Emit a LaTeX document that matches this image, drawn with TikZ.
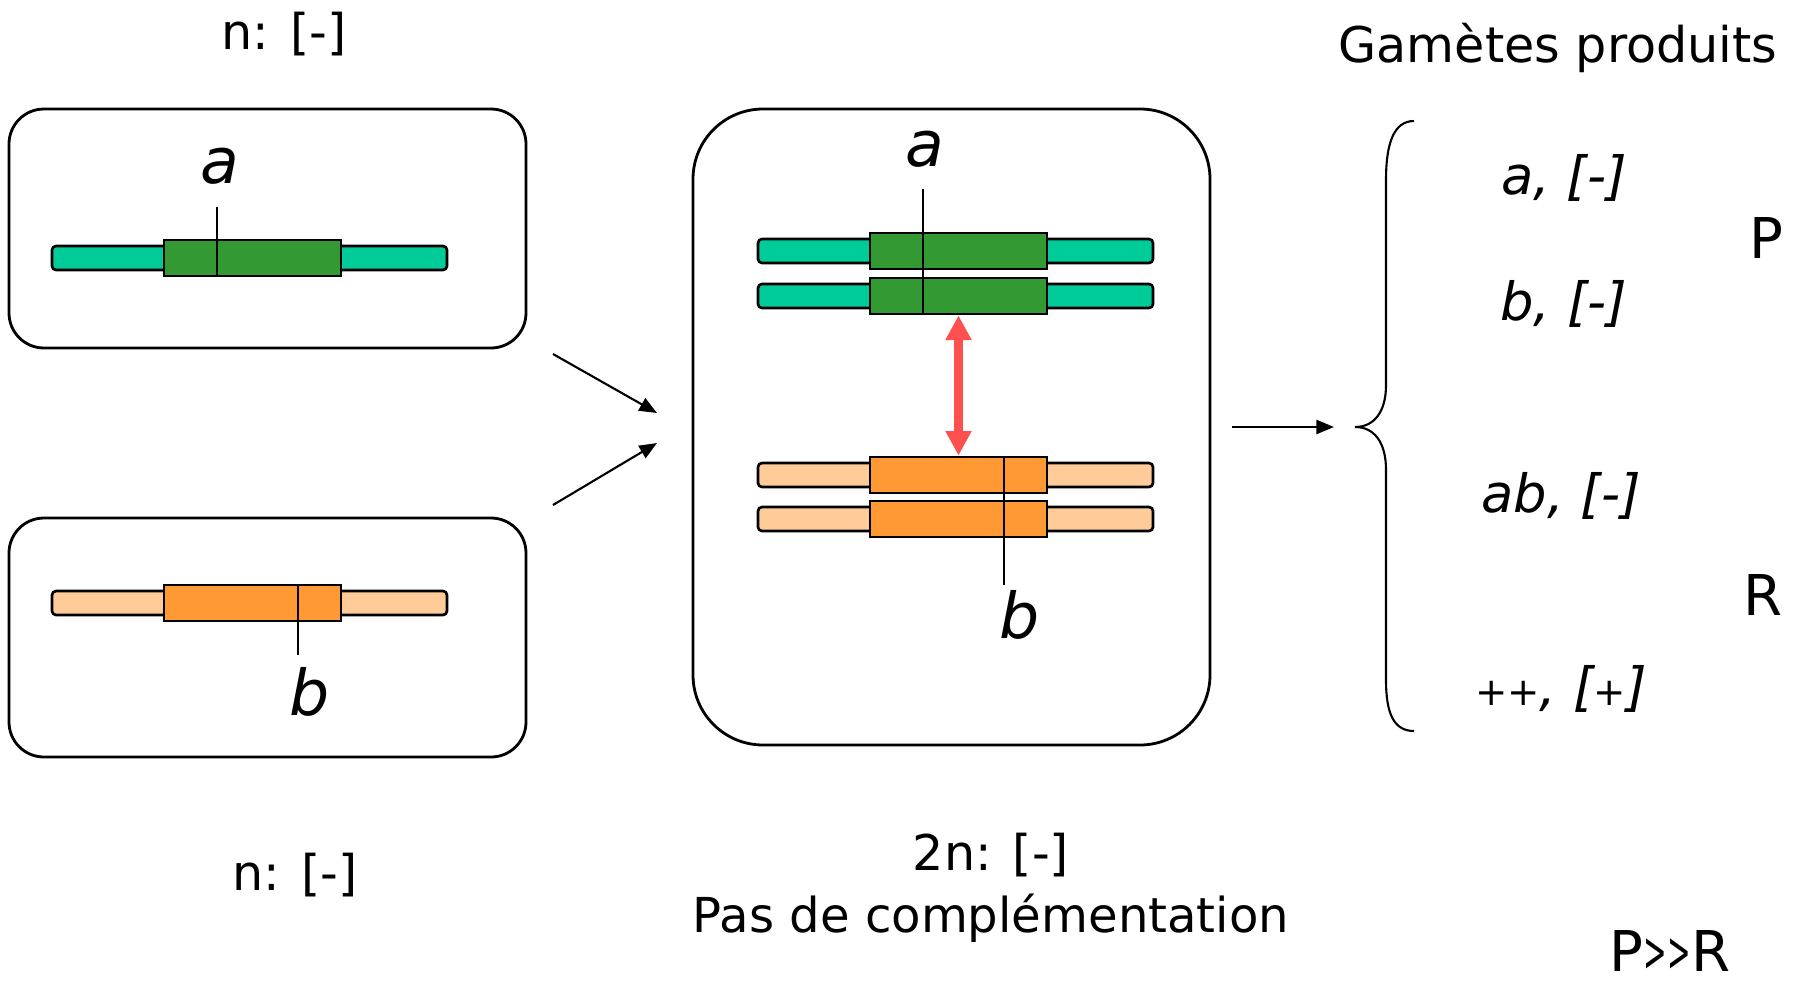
\documentclass[tikz,border=0pt]{standalone}
\usepackage{fontspec}
\setmainfont{DejaVu Sans}[ItalicFont={DejaVu Sans Oblique}]
\usetikzlibrary{arrows.meta}

\definecolor{armgreen}{HTML}{00CC99}
\definecolor{cengreen}{HTML}{339933}
\definecolor{armorange}{HTML}{FFCC99}
\definecolor{cenorange}{HTML}{FF9933}
\definecolor{pairred}{HTML}{FF5050}

\begin{document}
\begin{tikzpicture}[x=0.1mm,y=-0.1mm,
    cell/.style={draw,line width=0.8pt,inner sep=0pt,minimum width=51.7mm},
    arm/.style={draw,line width=0.75pt,rounded corners=0.4mm,inner sep=0pt,
      minimum width=39.5mm,minimum height=2.4mm},
    block/.style={draw,line width=0.8pt,inner sep=0pt,
      minimum width=17.7mm,minimum height=3.6mm},
    link/.style={-{Triangle[length=5pt,width=4pt]},line width=0.6pt},
    pairing/.style={pairred,line width=2.4pt,
      {Triangle[length=7pt,width=7pt]}-{Triangle[length=7pt,width=7pt]}},
    txt/.style={font=\fontsize{14}{17}\selectfont},
    gam/.style={font=\fontsize{15}{18}\selectfont\itshape},
    locus/.style={font=\fontsize{18}{22}\selectfont\itshape}]
        \useasboundingbox (0,0) rectangle (1800,989);
        % haploid cells and the diploid cell
        \node[cell,rounded corners=3.5mm,minimum height=23.9mm] (hapA) at (267.5,228.5) {};
        \node[cell,rounded corners=3.5mm,minimum height=23.9mm] (hapB) at (267.5,637.5) {};
        \node[cell,rounded corners=7mm,minimum height=63.6mm] (dip) at (951.5,427) {};
        % chromosomes: left end, height, arm colour, block colour
        \foreach \n/\x/\y/\lt/\dk in {1/52/258/armgreen/cengreen,
                                      2/52/603/armorange/cenorange,
                                      3/758/251/armgreen/cengreen,
                                      4/758/296/armgreen/cengreen,
                                      5/758/475/armorange/cenorange,
                                      6/758/519/armorange/cenorange}
        {
            \node[arm,fill=\lt] (arm\n) at (\x+197.5,\y) {};
            \node[block,fill=\dk] (cen\n) at (\x+200.5,\y) {};
        }
        % mutation marks
        \draw[line width=0.6pt] (217,207) -- (217,277);
        \draw[line width=0.6pt] (298,584) -- (298,655);
        \draw[line width=0.6pt] (923,189) -- (923,314);
        \draw[line width=0.6pt] (1004,457) -- (1004,585);
        \node[locus] (muta) at (220,166) {a};
        \node[locus] (mutb) at (310,692) {b};
        \node[locus] (dipa) at (925,149) {a};
        \node[locus] (dipb) at (1020,615) {b};
        \draw[pairing] (cen4.south) -- (cen5.north);
        % fusion and meiosis
        \coordinate (outA) at (553,354);
        \coordinate (inA) at (657,413);
        \coordinate (outB) at (553,505);
        \coordinate (inB) at (657,443);
        \coordinate (tip) at (1355,427);
        \draw[link] (outA) -- (inA);
        \draw[link] (outB) -- (inB);
        \draw[link] ([xshift=2.1mm]dip.east) -- ([xshift=-2.1mm]tip);
        \draw[line width=0.6pt] (1414,121) .. controls (1393,121) and (1386,145) .. (1386,180)
            -- (1386,385) .. controls (1386,412) and (1374,427) .. (tip)
            .. controls (1374,427) and (1386,442) .. (1386,470)
            -- (1386,680) .. controls (1386,712) and (1393,731) .. (1414,731);
        % texts
        \node[txt] (ploidA) at (284,34) {n: [-]};
        \node[txt] (ploidB) at (295,875) {n: [-]};
        \node[txt] (ploidD) at (991,855) {2n: [-]};
        \node[txt,font=\fontsize{13.7}{17}\selectfont] (compl) at (991,918) {Pas de complémentation};
        \node[txt] (title) at (1558,48) {Gamètes produits};
        \node[gam] (gamA) at (1564,178) {a, [-]};
        \node[gam] (gamB) at (1564,304) {b, [-]};
        \node[gam] (gamAB) at (1561,496) {ab, [-]};
        \node[gam] (gamWT) at (1561,689) {{\fontsize{11}{13}\selectfont ++}, [{\fontsize{11}{13}\selectfont +}]};
        \node[txt,font=\fontsize{16}{19}\selectfont] (par) at (1766,238) {P};
        \node[txt,font=\fontsize{16}{19}\selectfont] (rec) at (1763,595) {R};
        \node[txt,font=\fontsize{16}{19}\selectfont] (ratio) at (1670,951)
            {P\scalebox{0.5}[1]{>}\scalebox{0.5}[1]{>}R};
\end{tikzpicture}
\end{document}
